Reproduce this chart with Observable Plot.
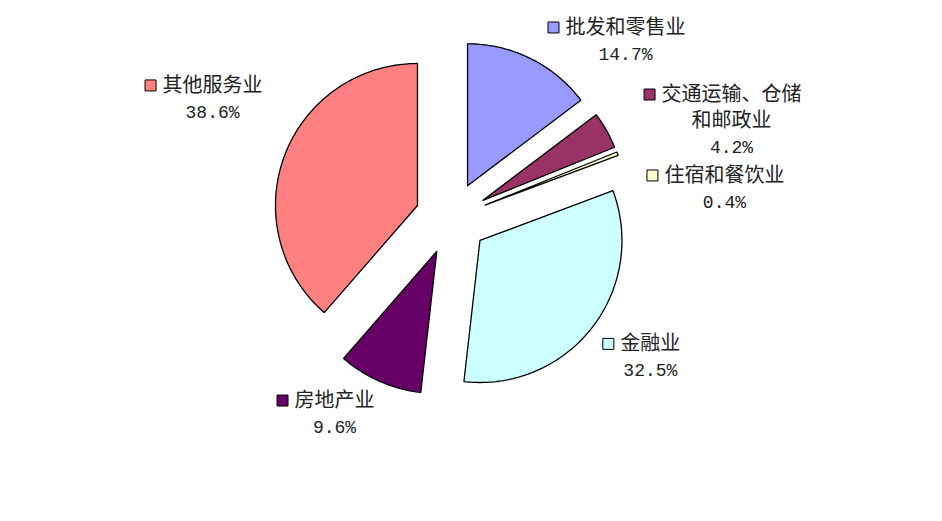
<!DOCTYPE html>
<html>
<head>
<meta charset="utf-8">
<script src="https://cdn.jsdelivr.net/npm/d3@7"></script>
<script src="https://cdn.jsdelivr.net/npm/@observablehq/plot@0.6"></script>
<style>
  html, body { margin: 0; padding: 0; background: #fff; }
  #chart svg { display: block; }
</style>
</head>
<body>
<div id="chart"></div>
<script>
// ---- data ----
const categories = ["批发和零售业", "交通运输、仓储和邮政业", "住宿和餐饮业", "金融业", "房地产业", "其他服务业"];
const labelText = ["批发和零售业", "交通运输、仓储\n和邮政业", "住宿和餐饮业", "金融业", "房地产业", "其他服务业"];
const values = [14.7, 4.2, 0.4, 32.5, 9.6, 38.6];
const palette = ["#9999FF", "#993366", "#FFFFCC", "#CCFFFF", "#660066", "#FF8080"];

// ---- layout (pie radius = 1 unit) ----
const W = 942, H = 521;
const R = 142;              // px per unit (pie radius)
const CX = 450.9, CY = 217.7; // pie centre in px
const explode = 0.255;
const labelX = [1.226, 1.973, 1.923, 1.401, -0.823, -1.682];
const labelY = [1.343, 0.871, 0.301, -0.885, -1.284, 0.935];
const fsName = 20, fsPct = 18, lineStep = 26.5 / R;

// ---- slice geometry from data ----
const arcs = d3.pie().sort(null).value(d => d)(values);
const slicePts = [];
arcs.forEach((a, i) => {
  const mid = (a.startAngle + a.endAngle) / 2;
  const ox = explode * Math.sin(mid), oy = explode * Math.cos(mid);
  slicePts.push({k: i, x: ox, y: oy});
  const n = Math.max(2, Math.ceil((a.endAngle - a.startAngle) * 180 / Math.PI));
  for (let j = 0; j <= n; j++) {
    const t = a.startAngle + (a.endAngle - a.startAngle) * j / n;
    slicePts.push({k: i, x: ox + Math.sin(t), y: oy + Math.cos(t)});
  }
  slicePts.push({k: i, x: ox, y: oy});
});

// ---- label rows ----
const nameRows = [], pctRows = [], keyRows = [];
labelText.forEach((lbl, i) => {
  const lines = lbl.split("\n");
  lines.forEach((t, j) => nameRows.push({x: labelX[i], y: labelY[i] - j * lineStep, text: t}));
  pctRows.push({x: labelX[i], y: labelY[i] - lines.length * lineStep, text: values[i].toFixed(1) + "%"});
  keyRows.push({x: labelX[i] - (lines[0].length * fsName / 2 + 12) / R, y: labelY[i], c: palette[i]});
});

const chart = Plot.plot({
  width: W,
  height: H,
  margin: 0,
  x: {domain: [-CX / R, (W - CX) / R], axis: null},
  y: {domain: [-(H - CY) / R, CY / R], axis: null},
  color: {type: "identity"},
  style: {background: "#fff"},
  marks: [
    Plot.line(slicePts, {x: "x", y: "y", z: "k", fill: d => palette[d.k], stroke: "#000", strokeWidth: 1.3, curve: "linear", strokeLinejoin: "miter"}),
    Plot.dot(keyRows, {x: "x", y: "y", symbol: "square", r: 6.2, fill: "c", stroke: "#000", strokeWidth: 1}),
    Plot.text(nameRows, {x: "x", y: "y", text: "text", fontFamily: "'Noto Sans CJK SC', sans-serif", fontSize: fsName, fill: "#222"}),
    Plot.text(pctRows, {x: "x", y: "y", text: "text", fontFamily: "'Liberation Mono', monospace", fontSize: fsPct, fill: "#222"})
  ]
});
document.getElementById("chart").appendChild(chart);
</script>
</body>
</html>
